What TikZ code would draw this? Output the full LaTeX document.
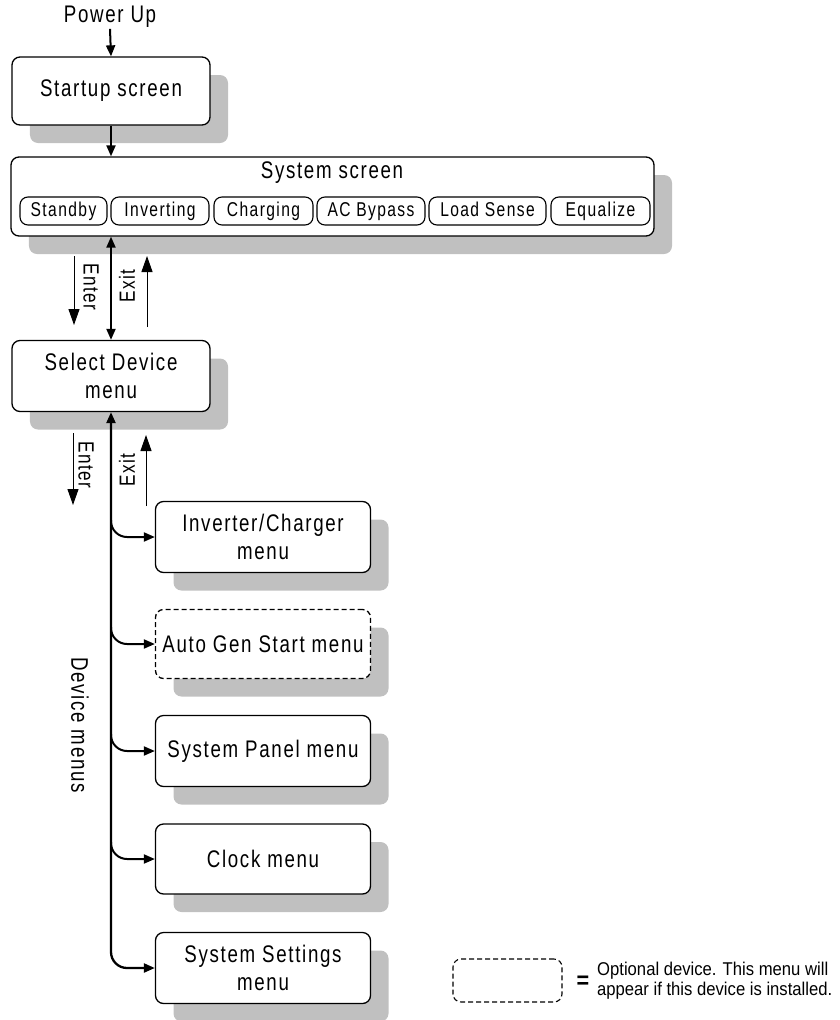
\documentclass[tikz,border=0pt]{standalone}
\usepackage{fontspec}
\setmainfont{Liberation Sans}[FakeStretch=0.78, LetterSpace=7]
\newfontfamily\legendfont{Liberation Sans}[FakeStretch=0.9]
\usetikzlibrary{arrows.meta,shadows,calc}
\definecolor{shadowgray}{HTML}{C0C0C0}
\tikzset{
  box/.style={draw, line width=1.3bp, rounded corners=8bp, fill=white, align=center,
    inner sep=0pt, minimum width=#1,
    drop shadow={shadow xshift=18bp, shadow yshift=-18bp, fill=shadowgray, opacity=1}},
  box/.default=198bp,
  optbox/.style={box=#1, dashed, dash pattern=on 5bp off 3bp},
  subbox/.style={draw, line width=1.1bp, rounded corners=8bp, fill=white,
    inner sep=0pt, minimum height=28bp, minimum width=#1, text height=14.5bp, text depth=4bp,
    font=\fontsize{20bp}{22bp}\selectfont},
  mainline/.style={line width=2bp, arrows={-Triangle[length=11bp,width=9bp]}},
  thinarrow/.style={line width=1bp, arrows={-Triangle[length=16bp,width=11bp]}},
  sidelabel/.style={font=\fontsize{22bp}{24bp}\selectfont, inner sep=0pt},
}
\begin{document}
\begin{tikzpicture}[x=1bp, y=-1bp, font=\fontsize{24bp}{28bp}\selectfont]
\useasboundingbox (0,0) rectangle (840,1020);

% nodes
\node[inner sep=1bp] (pu) at (110,17) {Power Up};
\node[box, minimum height=68bp] (st) at (111,91) {Startup screen};
\node[box=643bp, minimum height=79bp] (sys) at (332.5,196.5) {};
\node[inner sep=0pt] (systitle) at (332,173) {System screen};
\node[subbox=87bp]  (s1) at (63.5,211) {Standby};
\node[subbox=98bp]  (s2) at (160,211) {Inverting};
\node[subbox=99bp]  (s3) at (263.5,211) {Charging};
\node[subbox=108bp] (s4) at (371,211) {AC Bypass};
\node[subbox=117bp] (s5) at (487.5,211) {Load Sense};
\node[subbox=99bp]  (s6) at (600.5,211) {Equalize};

\node[box, minimum height=71bp] (sel) at (111,376) {Select Device\\menu};

\node[box=215bp, minimum height=71bp] (inv) at (263,537) {Inverter/Charger\\menu};
\node[optbox=215bp, minimum height=69bp] (ags) at (263,644) {Auto Gen Start menu};
\node[box=215bp, minimum height=71bp] (pan) at (263,751) {System Panel menu};
\node[box=215bp, minimum height=70bp] (clk) at (263,859) {Clock menu};
\node[box=215bp, minimum height=71bp] (set) at (263,968) {System Settings\\menu};

\node[font=\fontsize{24bp}{26bp}\selectfont, rotate=-90, inner sep=0pt] (dm) at (80,725) {Device menus};

% connectors top
\draw[mainline] (pu.south) -- (st.north);
\draw[mainline] (st.south) -- (st.south |- sys.north);
\draw[line width=2bp, arrows={Triangle[length=11bp,width=9bp]-Triangle[length=11bp,width=9bp]}]
  (sel.north |- sys.south) -- (sel.north);

% Enter / Exit (first pair)
\coordinate (en1a) at (74,256);
\coordinate (en1b) at (74,325);
\coordinate (ex1a) at (147,327);
\coordinate (ex1b) at (147,256);
\draw[thinarrow] (en1a) -- (en1b);
\draw[thinarrow] (ex1a) -- (ex1b);
\node[sidelabel, rotate=-90] (enl1) at (91,287) {Enter};
\node[sidelabel, rotate=90] (exl1) at (127,286) {Exit};

% Enter / Exit (second pair)
\coordinate (en2a) at (73,433);
\coordinate (en2b) at (73,505);
\coordinate (ex2a) at (146,506);
\coordinate (ex2b) at (146,435);
\draw[thinarrow] (en2a) -- (en2b);
\draw[thinarrow] (ex2a) -- (ex2b);
\node[sidelabel, rotate=-90] (enl2) at (86,465) {Enter};
\node[sidelabel, rotate=90] (exl2) at (127,470) {Exit};

% device trunk
\draw[line width=2.3bp, rounded corners=16bp,
  arrows={Triangle[length=11bp,width=9bp]-Triangle[length=11bp,width=9bp]}]
  (sel.south) |- (set.west);
\foreach \t in {inv,ags,pan,clk}{
  \coordinate (b-\t) at ($(sel.south |- \t.west)+(0,-17)$);
  \draw[mainline, rounded corners=16bp] (b-\t) |- (\t.west);
}

% legend
\node[draw, line width=1.1bp, dashed, dash pattern=on 5bp off 3bp, rounded corners=8bp,
  minimum width=109bp, minimum height=43bp, inner sep=0pt] (leg) at (507.5,980.5) {};
\node[font=\legendfont\bfseries\fontsize{24bp}{24bp}\selectfont, inner sep=0pt] (eq) at (583,982) {=};
\node[font=\legendfont\fontsize{18.5bp}{20bp}\selectfont, anchor=west, align=left, inner sep=0pt]
  (legtxt) at (597,981) {Optional device. This menu will\\appear if this device is installed.};
\end{tikzpicture}
\end{document}
